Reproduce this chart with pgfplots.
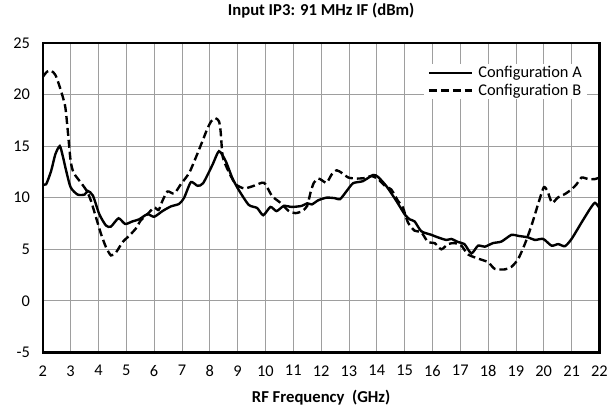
\documentclass[border=0pt]{standalone}
\usepackage{pgfplots}
\pgfplotsset{compat=1.18}
\usepackage{fontspec}
\setmainfont{Carlito}
\begin{document}
\begin{tikzpicture}
\begin{axis}[
  scale only axis,
  width=559bp, height=311bp,
  xmin=2, xmax=22, ymin=-5, ymax=25,
  xtick={2,3,...,22}, ytick={-5,0,...,25},
  grid=major,
  major grid style={line width=0.8bp, draw=black!38},
  axis line style={line width=2.4bp, black},
  tick style={draw=none},
  /pgf/number format/assume math mode=true,
  ticklabel style={font=\fontsize{16.5}{18}\selectfont},
  xticklabel style={yshift=-9.5bp},
  yticklabel style={xshift=-9.5bp},
  title={\textbf{Input IP3: 91 MHz IF (dBm)}},
  title style={font=\fontsize{16.8}{19}\selectfont, at={(rel axis cs:0.5,1)}, anchor=base, yshift=21.3bp},
  xlabel={\textbf{RF Frequency\ \ (GHz)}},
  xlabel style={font=\fontsize{16.8}{19}\selectfont, at={(rel axis cs:0.5,0)}, anchor=base, yshift=-50.5bp},
  legend style={at={(rel axis cs:0.9785,0.9325)}, anchor=north east, draw=none, fill=white,
     font=\fontsize{16.5}{18}\selectfont, inner xsep=4bp, inner ysep=1bp,
     nodes={inner sep=1.5bp}, row sep=1.7bp, column sep=4bp},
  legend cell align=left,
  legend image code/.code={\draw[#1] (0bp,0bp) -- (43bp,0bp);},
]
\coordinate (sw) at (rel axis cs:0,0);
\addplot[black, line width=2.4bp, smooth, tension=0.4] coordinates {
(2.0,11.3)(2.12,11.3)(2.3,12.6)(2.45,14.2)(2.61,15.0)(2.72,14.0)(2.84,12.6)(3.0,11.0)(3.25,10.3)(3.5,10.3)(3.62,10.65)(3.8,10.2)
(4.03,8.4)(4.27,7.3)(4.45,7.2)(4.72,8.0)(4.96,7.45)(5.22,7.7)(5.46,7.9)(5.76,8.4)(6.0,8.15)(6.3,8.7)(6.6,9.15)
(6.9,9.4)(7.08,10.0)(7.32,11.5)(7.56,11.15)(7.76,11.4)(8.1,13.2)(8.33,14.5)(8.57,13.55)(8.81,11.9)(9.05,10.7)
(9.4,9.3)(9.7,9.0)(9.92,8.3)(10.18,9.1)(10.4,8.7)(10.66,9.2)(10.95,9.1)(11.3,9.2)(11.5,9.45)(11.67,9.35)(11.9,9.75)
(12.2,10.0)(12.5,9.95)(12.68,9.85)(12.92,10.65)(13.15,11.4)(13.5,11.6)(13.87,12.2)(14.05,12.0)(14.35,11.1)
(14.7,9.7)(15.0,8.4)(15.18,7.9)(15.36,7.7)(15.6,6.75)(15.96,6.4)(16.2,6.15)(16.5,5.9)(16.68,6.0)(16.92,5.7)
(17.15,5.5)(17.4,4.6)(17.64,5.35)(17.88,5.25)(18.18,5.6)(18.48,5.75)(18.84,6.4)(19.08,6.3)(19.44,6.15)(19.68,5.9)
(19.98,6.0)(20.28,5.35)(20.52,5.5)(20.76,5.3)(21.0,6.0)(21.36,7.6)(21.66,8.9)(21.84,9.5)(22.0,9.0)
};
\addlegendentry{Configuration A}
\addplot[black, line width=2.4bp, dash pattern=on 8bp off 4bp, smooth, tension=0.4] coordinates {
(2.0,21.7)(2.15,22.2)(2.3,22.3)(2.45,21.9)(2.6,20.8)(2.8,18.9)(2.9,16.4)(3.0,13.55)(3.11,12.4)(3.37,11.45)(3.58,10.65)
(3.73,9.7)(3.91,8.1)(4.09,6.5)(4.27,5.2)(4.45,4.4)(4.63,4.7)(4.87,5.7)(5.1,6.3)(5.34,7.0)(5.52,7.8)(5.76,8.4)
(6.0,9.05)(6.16,8.8)(6.3,9.7)(6.48,10.6)(6.72,10.4)(6.96,11.3)(7.26,12.4)(7.5,13.9)(7.74,15.5)(7.9,16.6)(8.05,17.4)
(8.2,17.7)(8.33,17.4)(8.39,16.4)(8.47,13.9)(8.7,12.4)(8.93,11.3)(9.23,10.9)(9.53,11.1)(9.88,11.45)(10.0,11.3)
(10.24,10.15)(10.54,9.5)(10.84,8.7)(11.08,8.5)(11.32,8.7)(11.5,9.2)(11.62,10.5)(11.74,11.45)(11.9,11.85)(12.02,11.7)
(12.2,11.45)(12.38,12.25)(12.56,12.65)(12.74,12.4)(12.98,11.95)(13.27,11.85)(13.57,11.9)(13.8,12.1)(14.05,11.8)
(14.29,11.15)(14.52,10.8)(14.76,9.7)(14.94,9.05)(15.12,7.6)(15.36,6.8)(15.6,6.65)(15.84,5.7)(16.08,5.6)(16.32,5.0)
(16.56,5.5)(16.8,5.6)(17.04,5.35)(17.28,4.5)(17.64,4.1)(18.0,3.75)(18.24,3.1)(18.6,3.05)(18.84,3.3)(19.08,4.05)
(19.32,5.5)(19.56,7.3)(19.8,9.4)(20.0,11.0)(20.13,10.65)(20.3,9.5)(20.5,10.0)(20.76,10.35)(21.0,10.8)(21.18,11.3)
(21.36,11.95)(21.6,11.8)(21.84,11.8)(22.0,11.95)
};
\addlegendentry{Configuration B}
\end{axis}
\path (sw) ++(-43bp,-55bp) rectangle ++(611bp,408bp);
\end{tikzpicture}
\end{document}
